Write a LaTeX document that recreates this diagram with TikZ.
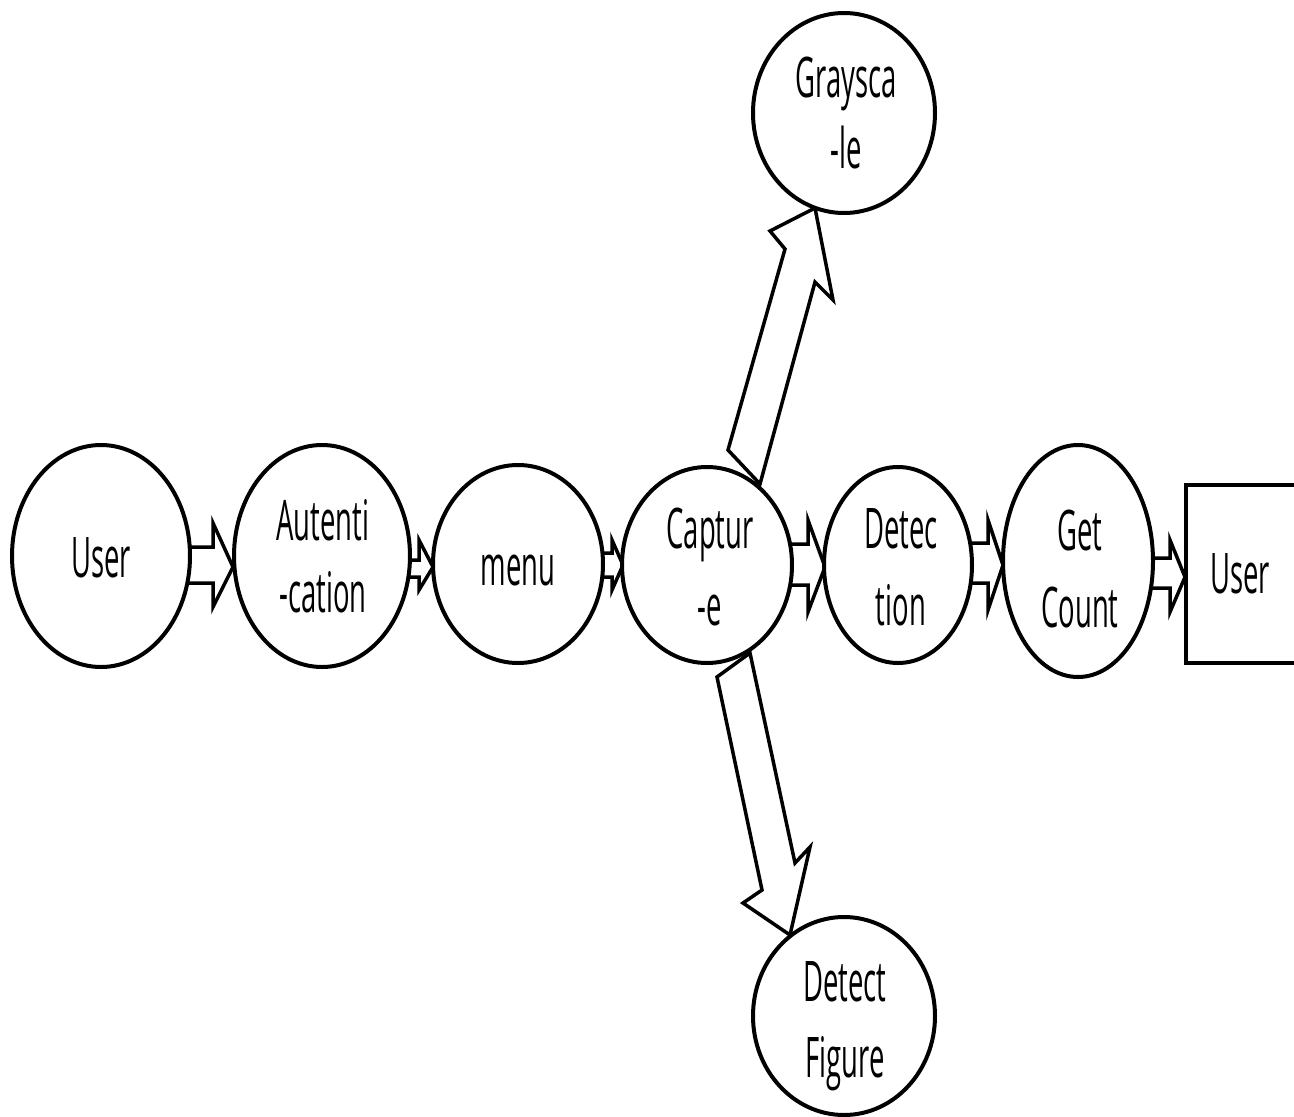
\documentclass[tikz,border=0pt]{standalone}
\usepackage{fontspec}
\newfontfamily\condfont[FakeStretch=0.49]{Open Sans}
\usetikzlibrary{shapes.geometric}
\newcommand\tstrut{\rule[-12pt]{0pt}{57pt}}
\tikzset{
  bubble/.style={ellipse, draw, line width=4pt, fill=white, inner sep=0pt},
  userbox/.style={rectangle, draw, line width=4pt, fill=white, inner sep=0pt},
  blockarrow/.style={draw, line width=3.5pt, fill=white, line join=miter},
  txt/.style={font={\condfont\fontsize{56}{#1}\selectfont}, align=center, inner sep=0pt},
  txt/.default=75
}
\begin{document}
\begin{tikzpicture}[x=1pt,y=-1pt]
\useasboundingbox (0,0) rectangle (1294,1117);
\fill[white] (0,0) rectangle (1294,1117);
\clip (0,0) rectangle (1294,1117);

% block arrows
\draw[blockarrow] (180,547) -- (213,547) -- (213,523) -- (233,567) -- (213,607) -- (213,583) -- (180,583) -- cycle;
\draw[blockarrow] (400,560) -- (419,560) -- (419,540) -- (433,567) -- (419,590) -- (419,577) -- (400,577) -- cycle;
\draw[blockarrow] (592,553) -- (612,553) -- (612,540) -- (623,565) -- (612,590) -- (612,577) -- (592,577) -- cycle;
\draw[blockarrow] (782,544) -- (808,544) -- (808,520) -- (825,567) -- (808,612) -- (808,585) -- (782,585) -- cycle;
\draw[blockarrow] (962,543) -- (988,543) -- (988,520) -- (1003,565) -- (988,610) -- (988,583) -- (962,583) -- cycle;
\draw[blockarrow] (1143,558) -- (1170,558) -- (1170,540) -- (1185,577) -- (1170,612) -- (1170,588) -- (1143,588) -- cycle;
\draw[blockarrow] (728,450) -- (785,249) -- (770,231) -- (815,208) -- (833,300) -- (815,282) -- (760,484) -- cycle;
\draw[blockarrow] (750,653) -- (795,863) -- (810,847) -- (790,935) -- (743,903) -- (762,890) -- (717,677) -- cycle;

% process bubbles
\node[bubble, minimum width=178, minimum height=222] (user) at (101,556) {};
\node[bubble, minimum width=176, minimum height=222] (aut) at (322,556) {};
\node[bubble, minimum width=170, minimum height=198] (menu) at (518,564) {};
\node[bubble, minimum width=170, minimum height=196] (cap) at (707,565) {};
\node[bubble, minimum width=148, minimum height=196] (det) at (898,565) {};
\node[bubble, minimum width=150, minimum height=232] (get) at (1078,561) {};
\node[bubble, minimum width=182, minimum height=200] (gray) at (844,113) {};
\node[bubble, minimum width=182, minimum height=198] (dfig) at (844,1016) {};
\node[userbox, minimum width=114, minimum height=178] (ubox) at (1243,574) {};

% labels
\node[txt] (tuser) at (101,560.5) {\tstrut User};
\node[txt=72] (taut) at (323,559.5) {\tstrut Autenti\\\tstrut -cation};
\node[txt] (tmenu) at (518,568.5) {\tstrut menu};
\node[txt=77] (tcap) at (710,570) {\tstrut Captur\\\tstrut -e};
\node[txt=77] (tdet) at (901,570) {\tstrut Detec\\\tstrut tion};
\node[txt=77] (tget) at (1080,572) {\tstrut Get\\\tstrut Count};
\node[txt] (tubox) at (1240,576.5) {\tstrut User};
\node[txt=71] (tgray) at (846,116) {\tstrut Graysca\\\tstrut -le};
\node[txt=76] (tdfig) at (845,1023.5) {\tstrut Detect\\\tstrut Figure};
\end{tikzpicture}
\end{document}
